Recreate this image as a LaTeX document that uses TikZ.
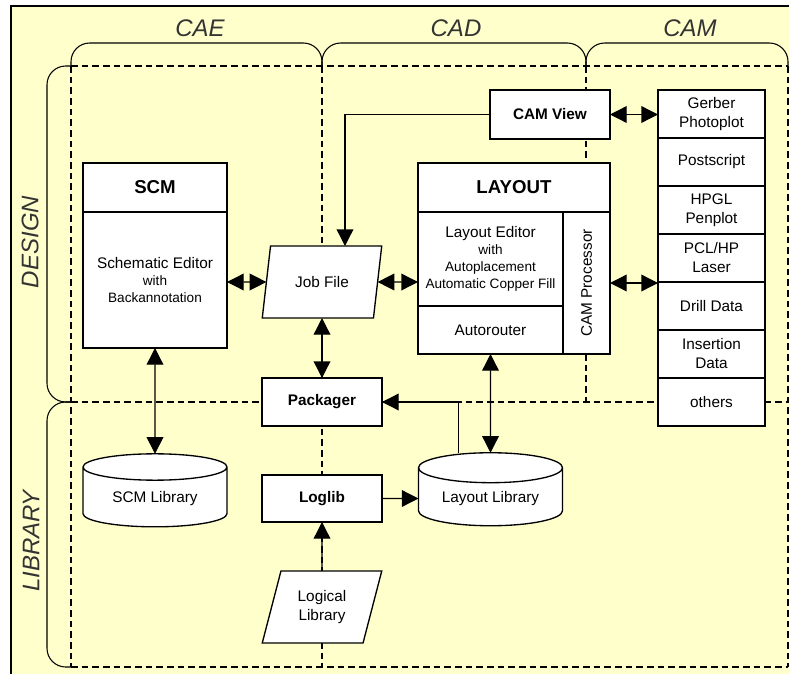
\documentclass[tikz,border=0pt]{standalone}
\usepackage{fontspec}
\setmainfont{Liberation Sans}
\usetikzlibrary{shapes.geometric,arrows.meta,calc}

\definecolor{bgyellow}{HTML}{FFFFCC}

\newcommand\txtbig{\fontsize{18}{21}\selectfont}
\newcommand\txttitle{\fontsize{14}{17}\selectfont\bfseries}
\newcommand\txtbold{\fontsize{11.5}{14}\selectfont\bfseries}
\newcommand\txtnorm{\fontsize{11.5}{14.25}\selectfont}
\newcommand\txtsmall{\fontsize{10.2}{12.6}\selectfont}

\tikzset{
  box/.style={draw, fill=white, line width=1pt, inner sep=1pt, outer sep=0pt,
    align=center, font=\txtnorm},
  datafile/.style={box, trapezium, trapezium left angle=72,
    trapezium right angle=108, trapezium stretches,
    minimum width=90pt, minimum height=54pt},
  libdb/.style={box, cylinder, shape border rotate=90, aspect=0.3,
    minimum width=108pt, minimum height=54.75pt},
  zone/.style={line width=0.8pt, rounded corners=14pt},
  split/.style={line width=0.8pt, dash pattern=on 5pt off 3pt},
  region/.style={font=\txtbig\itshape, text=black!80},
  link/.style={line width=1pt},
}

\begin{document}
\begin{tikzpicture}[x=0.75pt, y=-0.75pt, >={Triangle[length=12.5pt,width=12.5pt]}]
  \useasboundingbox (0,0) rectangle (789,674);

  % sheet
  \fill[bgyellow] (11,6) rectangle (800,680);
  \draw[line width=1pt] (11,680) -- (11,6) -- (800,6);

  % phase braces
  \draw[zone] (71,66) -- (71,43) -- (322,43) -- (322,66);
  \draw[zone] (322,66) -- (322,43) -- (586,43) -- (586,66);
  \draw[zone] (586,66) -- (586,43) -- (788,43) -- (788,66);
  \draw[zone] (71,66) -- (47,66) -- (47,402) -- (71,402);
  \draw[zone] (71,402) -- (47,402) -- (47,667) -- (71,667);

  \node[region] (cae) at (200,28) {CAE};
  \node[region] (cad) at (456,28) {CAD};
  \node[region] (cam) at (690,28) {CAM};
  \node[region, rotate=90] (design) at (30,242) {DESIGN};
  \node[region, rotate=90] (library) at (31,541) {LIBRARY};

  % dashed grid
  \draw[split] (71,66) -- (788,66);
  \draw[split] (71,402) -- (788,402);
  \draw[split] (71,667) -- (788,667);
  \draw[split] (71,66) -- (71,667);
  \draw[split] (322,66) -- (322,667);
  \draw[split] (586,66) -- (586,402);
  \draw[split] (788,66) -- (788,667);

  % schematic side
  \node[box, minimum width=108pt, minimum height=36.75pt, font=\txttitle] (scm) at (155,187.5) {SCM};
  \node[box, minimum width=108pt, minimum height=102pt, font=\txtsmall] (scmedit) at (155,280)
    {{\txtnorm Schematic Editor}\\with\\Backannotation};
  \node[libdb] (scmlib) at (155,498.5) {SCM Library};

  % layout side
  \node[box, minimum width=144pt, minimum height=36.75pt, font=\txttitle] (layout) at (514,187.5) {LAYOUT};
  \node[box, minimum width=108.75pt, minimum height=70.5pt, font=\txtsmall] (layedit) at (490.5,259)
    {{\txtnorm Layout Editor}\\with\\Autoplacement\\Automatic Copper Fill};
  \node[box, minimum width=108.75pt, minimum height=36pt] (autorouter) at (490.5,330) {Autorouter};
  \node[box, minimum width=35.25pt, minimum height=106.5pt] (camproc) at (586.5,283)
    {\rotatebox{90}{CAM Processor}};
  \node[box, minimum width=90pt, minimum height=36.75pt, font=\txtbold] (camview) at (550,114.5) {CAM View};
  \node[libdb] (laylib) at (490.5,498.5) {Layout Library};

  % middle column
  \node[datafile] (jobfile) at (322,282) {Job File};
  \node[box, minimum width=90pt, minimum height=36pt, font=\txtbold] (packager) at (322,402) {Packager};
  \node[box, minimum width=90pt, minimum height=35.25pt, font=\txtbold] (loglib) at (322,498.5) {Loglib};
  \node[datafile] (logical) at (322,607) {Logical\\Library};

  % output formats
  \foreach \lbl [count=\i] in {{Gerber\\Photoplot}, Postscript, {HPGL\\Penplot},
      {PCL/HP\\Laser}, Drill Data, {Insertion\\Data}, others}
    \node[box, minimum width=80.25pt, minimum height=36pt] (out\i) at (711.5,{114+48*(\i-1)}) {\lbl};

  % data flow
  \draw[link, <->] (jobfile) -- (jobfile -| scmedit.east);
  \draw[link, <->] (jobfile) -- (jobfile -| layedit.west);
  \draw[link, <->] (jobfile) -- (packager);
  \draw[link, ->] (camview.west) -| ($(jobfile.center)+(23,-36)$);
  \draw[link, <->] (camview.east) -- (camview.east -| out1.west);
  \draw[link, <->] (camproc.east) -- (camproc.east -| out4.west);
  \draw[link, <->] (scmedit) -- (scmlib);
  \draw[link, <->] (autorouter) -- (laylib);
  \draw[link, ->] ([xshift=-24pt]laylib.north) |- (packager.east);
  \draw[link, ->] (loglib) -- (laylib);
  \draw[link, ->] (logical) -- (loglib);
\end{tikzpicture}
\end{document}
